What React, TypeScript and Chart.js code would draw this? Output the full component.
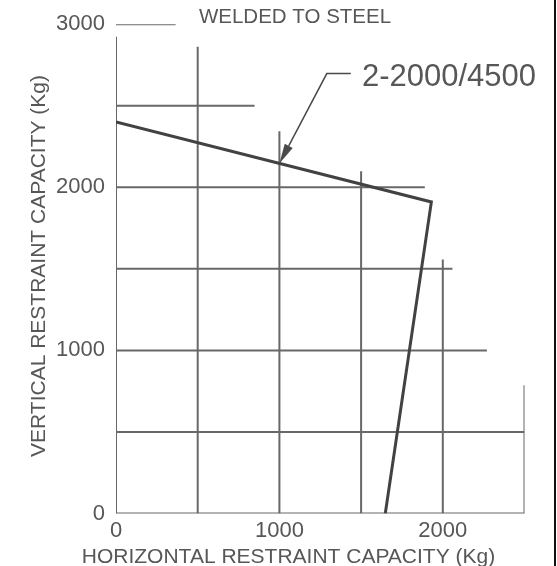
import React, { useEffect, useRef } from "react";
import { Chart, registerables } from "chart.js";
Chart.register(...registerables);

const chartTitle = "WELDED TO STEEL";
const xAxisTitle = "HORIZONTAL RESTRAINT CAPACITY (Kg)";
const yAxisTitle = "VERTICAL RESTRAINT CAPACITY (Kg)";
const curveLabel = "2-2000/4500";

// capacity curve (Kg)
const curveX = [0, 1930, 1648];
const curveY = [2400, 1910, 0];

const xTicks = [0, 1000, 2000];
const yTicks = [0, 1000, 2000, 3000];

// drafting-style grid: vertical lines and how high they reach
const gridColX = [0, 500, 1000, 1500, 2000, 2500];
const gridColTop = [2923, 2862, 2343, 2099, 1558, 787];
// horizontal lines and how far they reach
const gridRowY = [3000, 2500, 2000, 1500, 1000, 500, 0];
const gridRowEnd = [365, 848, 1890, 2059, 2270, 2500, 2500];

// annotation leader: tip on the curve, elbow, end
const leaderX = [1000, 1290, 1437];
const leaderY = [2146, 2697, 2697];
const labelPos = [1505, 2623];

const FONT = "'Liberation Sans', Arial, sans-serif";
const TEXT = "#575757";

const overlay = {
  id: "overlay",
  afterDatasetsDraw(chart: any) {
    const { ctx, scales } = chart;
    const xs = scales.x, ys = scales.y;
    const px = leaderX.map((v) => xs.getPixelForValue(v));
    const py = leaderY.map((v) => ys.getPixelForValue(v));
    ctx.save();
    ctx.strokeStyle = "#4a4a4a";
    ctx.fillStyle = "#4a4a4a";
    ctx.lineWidth = 1.5;
    const ang = Math.atan2(py[0] - py[1], px[0] - px[1]);
    const len = 20, half = 4.5;
    const bx = px[0] - len * Math.cos(ang), by = py[0] - len * Math.sin(ang);
    ctx.beginPath();
    ctx.moveTo(px[2], py[2]);
    ctx.lineTo(px[1], py[1]);
    ctx.lineTo(bx, by);
    ctx.stroke();
    ctx.beginPath();
    ctx.moveTo(px[0], py[0]);
    ctx.lineTo(bx + half * Math.sin(ang), by - half * Math.cos(ang));
    ctx.lineTo(bx - half * Math.sin(ang), by + half * Math.cos(ang));
    ctx.closePath();
    ctx.fill();
    ctx.fillStyle = TEXT;
    ctx.font = `31px ${FONT}`;
    ctx.textAlign = "left";
    ctx.textBaseline = "alphabetic";
    ctx.fillText(curveLabel, xs.getPixelForValue(labelPos[0]), ys.getPixelForValue(labelPos[1]));
    ctx.restore();
  },
  afterDraw(chart: any) {
    const { ctx } = chart;
    ctx.save();
    ctx.fillStyle = TEXT;
    ctx.textBaseline = "alphabetic";
    ctx.textAlign = "center";
    ctx.font = `20.5px ${FONT}`;
    ctx.fillText(chartTitle, 295, 23);
    ctx.font = `21px ${FONT}`;
    ctx.fillText(xAxisTitle, 288.5, 563);
    ctx.translate(45, 266);
    ctx.rotate(-Math.PI / 2);
    ctx.fillText(yAxisTitle, 0, 0);
    ctx.restore();
    ctx.save();
    ctx.fillStyle = "#111";
    ctx.fillRect(554, 0, 2, chart.height);
    ctx.restore();
  },
};

export default function App() {
  const ref = useRef<HTMLCanvasElement>(null);
  useEffect(() => {
    if (!ref.current) return;
    const gridSets: any[] = [];
    const gridStyle = {
      borderColor: "#686868",
      borderWidth: 2,
      pointRadius: 0,
      showLine: true,
      order: 2,
    };
    gridColX.forEach((x, i) =>
      gridSets.push({ data: [{ x, y: 0 }, { x, y: gridColTop[i] }], ...gridStyle })
    );
    gridRowY.forEach((y, i) =>
      gridSets.push({ data: [{ x: 0, y }, { x: gridRowEnd[i], y }], ...gridStyle })
    );
    const chart = new Chart(ref.current, {
      type: "scatter",
      data: {
        datasets: [
          {
            data: curveX.map((x, i) => ({ x, y: curveY[i] })),
            borderColor: "#424242",
            borderWidth: 3,
            pointRadius: 0,
            showLine: true,
            order: 1,
          },
          ...gridSets,
        ],
      },
      options: {
        animation: false,
        responsive: true,
        maintainAspectRatio: false,
        layout: { padding: { left: 0, top: 23.5, right: 32.5, bottom: 0 } },
        plugins: { legend: { display: false }, tooltip: { enabled: false } },
        scales: {
          x: {
            type: "linear",
            min: 0,
            max: 2500,
            grid: { display: false, drawTicks: false },
            border: { display: false },
            afterBuildTicks: (s: any) => {
              s.ticks = xTicks.map((value) => ({ value }));
            },
            afterFit: (s: any) => {
              s.height = 52.5;
            },
            ticks: {
              padding: 4,
              color: TEXT,
              font: { family: FONT, size: 22 },
              maxRotation: 0,
              autoSkip: false,
              callback: (v: any) => String(v),
            },
          },
          y: {
            type: "linear",
            min: 0,
            max: 3000,
            grid: { display: false, drawTicks: false },
            border: { display: false },
            afterBuildTicks: (s: any) => {
              s.ticks = yTicks.map((value) => ({ value }));
            },
            afterFit: (s: any) => {
              s.width = 116;
            },
            ticks: {
              padding: 11,
              color: TEXT,
              font: { family: FONT, size: 22 },
              autoSkip: false,
              callback: (v: any) => String(v),
            },
          },
        },
      },
      plugins: [overlay],
    });
    return () => chart.destroy();
  }, []);
  return (
    <div style={{ position: "fixed", left: 0, top: 0, width: 557, height: 566, background: "#fff" }}>
      <canvas ref={ref} />
    </div>
  );
}
